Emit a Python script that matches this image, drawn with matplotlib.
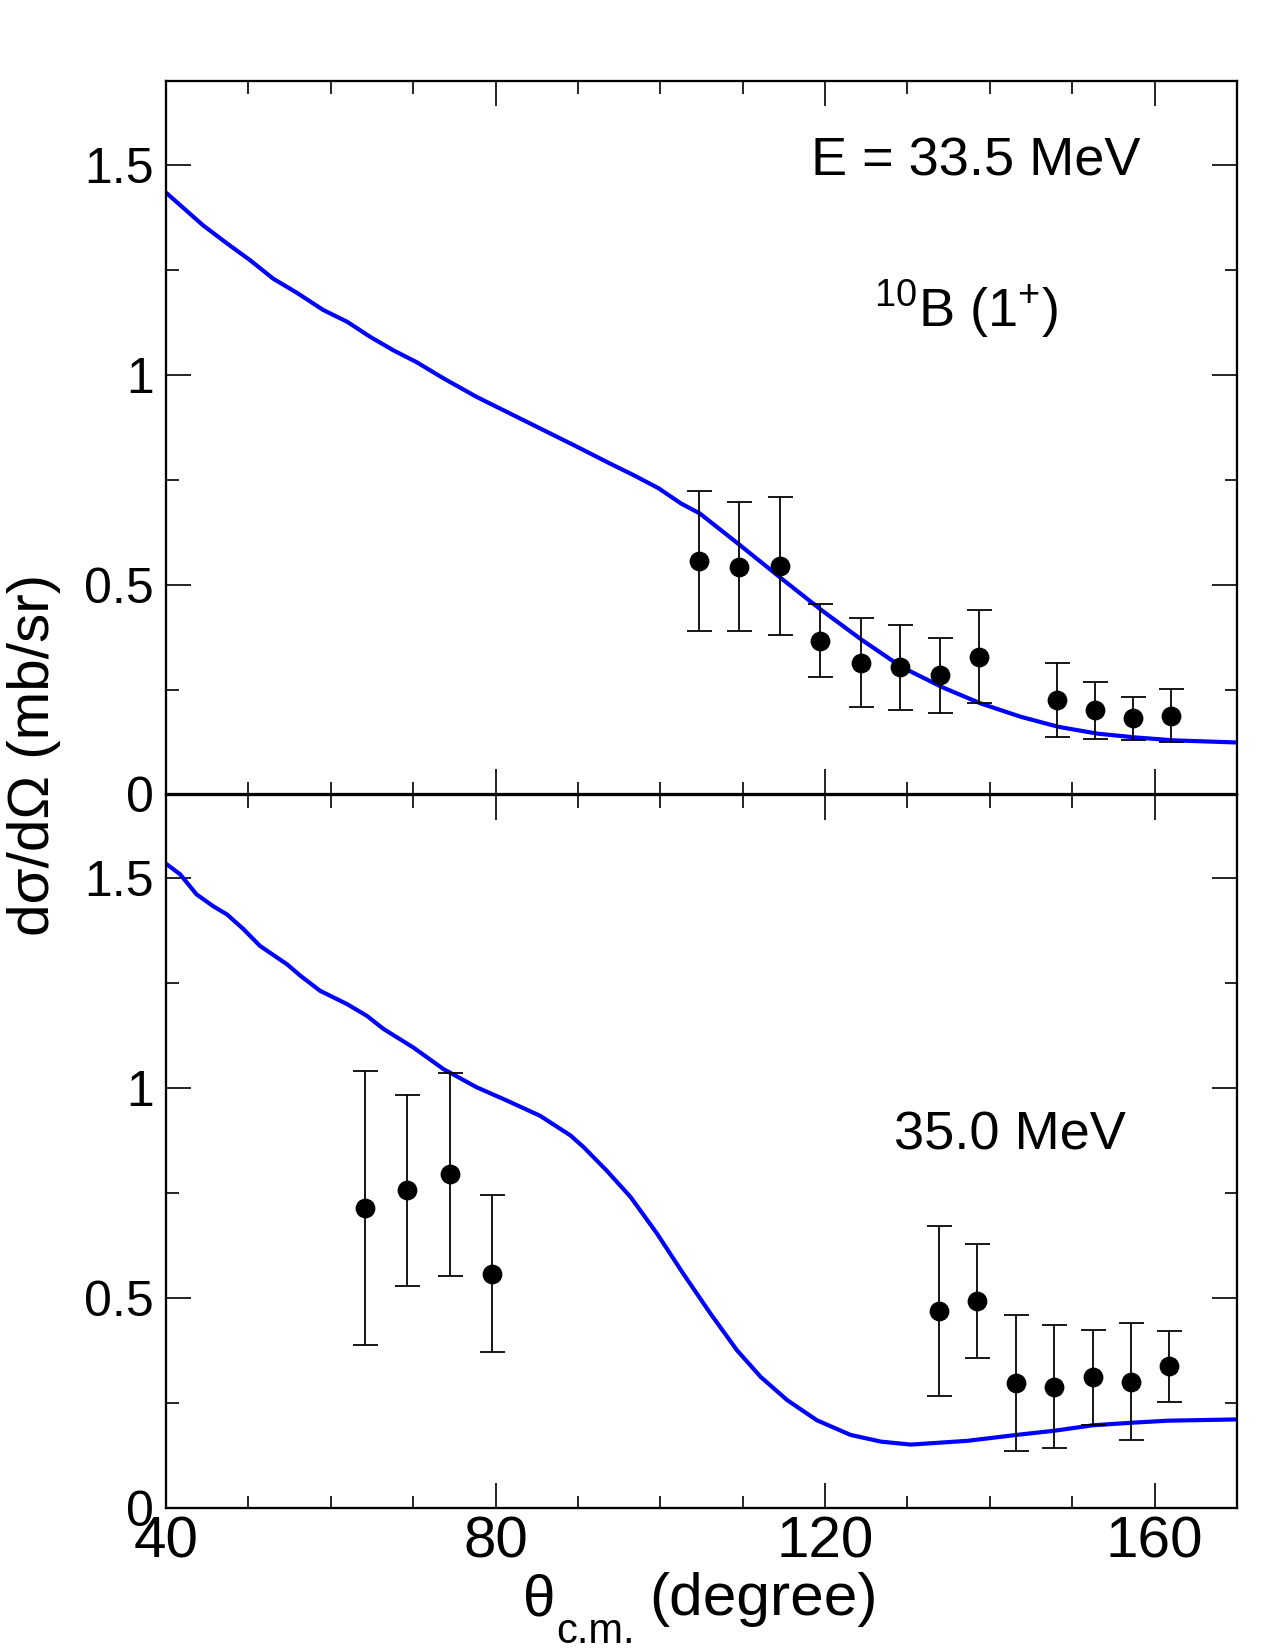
import matplotlib
matplotlib.use("Agg")
import matplotlib.pyplot as plt
from matplotlib.ticker import MultipleLocator, FixedLocator
import numpy as np

plt.rcParams['font.family'] = ['Liberation Sans', 'DejaVu Sans']
plt.rcParams['mathtext.fontset'] = 'custom'
plt.rcParams['mathtext.rm'] = 'Liberation Sans'
plt.rcParams['mathtext.it'] = 'Liberation Sans'
plt.rcParams['mathtext.bf'] = 'Liberation Sans:bold'

# ---- data: E = 33.5 MeV (top) ----
theta_top = [104.7, 109.6, 114.5, 119.4, 124.3, 129.1, 134.0, 138.7, 148.1, 152.8, 157.4, 162.0]
sig_top = [0.557, 0.543, 0.544, 0.366, 0.314, 0.303, 0.285, 0.329, 0.225, 0.201, 0.182, 0.188]
hi_top = [0.724, 0.697, 0.709, 0.454, 0.420, 0.403, 0.374, 0.439, 0.313, 0.268, 0.233, 0.252]
lo_top = [0.389, 0.389, 0.380, 0.280, 0.209, 0.202, 0.195, 0.219, 0.138, 0.133, 0.129, 0.124]

curve_top_x = [40.0, 44.5, 47.4, 50.2, 53.0, 55.9, 59.1, 62.0, 64.8, 67.6, 70.4, 73.7, 77.7,
               81.8, 85.8, 89.9, 93.9, 96.8, 99.8, 102.5, 104.8, 109.7, 114.7, 119.6, 124.5,
               129.3, 134.2, 138.9, 143.8, 148.4, 153.1, 157.7, 162.4, 170.0]
curve_top_y = [1.435, 1.357, 1.314, 1.274, 1.230, 1.196, 1.155, 1.127, 1.091, 1.059, 1.031,
               0.992, 0.948, 0.908, 0.869, 0.829, 0.789, 0.761, 0.730, 0.694, 0.670, 0.594,
               0.515, 0.439, 0.368, 0.304, 0.256, 0.217, 0.185, 0.161, 0.145, 0.136, 0.129, 0.124]

# ---- data: E = 35.0 MeV (bottom) ----
theta_bot = [64.1, 69.3, 74.5, 79.6, 133.8, 138.5, 143.2, 147.8, 152.5, 157.1, 161.7]
sig_bot = [0.714, 0.756, 0.796, 0.557, 0.468, 0.493, 0.297, 0.288, 0.310, 0.300, 0.337]
hi_bot = [1.040, 0.984, 1.037, 0.745, 0.670, 0.629, 0.460, 0.434, 0.424, 0.439, 0.422]
lo_bot = [0.387, 0.528, 0.553, 0.371, 0.266, 0.357, 0.134, 0.142, 0.197, 0.161, 0.251]

curve_bot_x = [40.0, 41.7, 43.7, 45.7, 47.4, 49.4, 51.4, 54.7, 56.3, 58.7, 62.0, 64.4, 66.4,
               70.0, 73.7, 77.7, 81.4, 85.4, 89.1, 90.7, 93.5, 96.4, 99.6, 102.8, 106.1,
               109.3, 112.2, 115.4, 119.0, 123.1, 126.8, 130.4, 137.3, 143.2, 147.8, 152.5,
               157.1, 161.6, 170.0]
curve_bot_y = [1.535, 1.510, 1.462, 1.434, 1.414, 1.379, 1.339, 1.295, 1.268, 1.232, 1.200,
               1.172, 1.141, 1.097, 1.045, 1.002, 0.970, 0.934, 0.887, 0.859, 0.803, 0.740,
               0.653, 0.557, 0.462, 0.375, 0.311, 0.256, 0.208, 0.173, 0.157, 0.150, 0.159,
               0.173, 0.183, 0.196, 0.202, 0.207, 0.210]

ytick_vals = [0, 0.5, 1, 1.5]
ytick_labels = ['0', '0.5', '1', '1.5']
xtick_vals = [40, 80, 120, 160]
xtick_labels = ['40', '80', '120', '160']

fig = plt.figure(figsize=(8.5, 11), dpi=150)
W, H = 1275, 1650
L, R = 166 / W, 1237 / W
top_t, mid, bot_b = 81.5, 794.5, 1507.5
ax1 = fig.add_axes([L, 1 - mid / H, R - L, (mid - top_t) / H])
ax2 = fig.add_axes([L, 1 - bot_b / H, R - L, (bot_b - mid) / H])

blue = '#0000ff'

def draw(ax, cx, cy, tx, sy, lo, hi):
    ax.plot(cx, cy, color=blue, lw=2.0, zorder=2, solid_joinstyle='round')
    sy = np.array(sy); lo = np.array(lo); hi = np.array(hi)
    ax.errorbar(tx, sy, yerr=[sy - lo, hi - sy], fmt='o', color='black', ms=8.5,
                elinewidth=0.85, capsize=6.0, capthick=0.85, zorder=3)
    ax.set_xlim(40, 170)
    ax.set_ylim(0, 1.7)
    ax.yaxis.set_major_locator(FixedLocator(ytick_vals))
    ax.set_yticklabels(ytick_labels)
    ax.yaxis.set_minor_locator(MultipleLocator(0.25))
    ax.xaxis.set_major_locator(FixedLocator(xtick_vals))
    ax.xaxis.set_minor_locator(MultipleLocator(10))
    ax.tick_params(which='both', direction='in', top=True, right=True, width=0.8)
    ax.tick_params(which='major', length=12)
    ax.tick_params(which='minor', length=6)
    ax.tick_params(axis='y', labelsize=24, pad=6)
    for s in ax.spines.values():
        s.set_linewidth(1.1)

draw(ax1, curve_top_x, curve_top_y, theta_top, sig_top, lo_top, hi_top)
draw(ax2, curve_bot_x, curve_bot_y, theta_bot, sig_bot, lo_bot, hi_bot)
ax1.set_xticklabels([])
ax2.set_xticklabels(xtick_labels)
ax2.tick_params(axis='x', labelsize=28, pad=4)

ax1.text(976 / W, 1 - 162 / H, 'E = 33.5 MeV', transform=fig.transFigure,
         ha='center', va='center', fontsize=26)
ax1.text(966 / W, 1 - 327 / H, r'$^{10}$B (1$^{+}$)', transform=fig.transFigure,
         ha='center', va='baseline', fontsize=26)
ax2.text(1010 / W, 1 - 1136 / H, '35.0 MeV', transform=fig.transFigure,
         ha='center', va='center', fontsize=26)

# x-axis title: θ with lowered "c.m." subscript, then "(degree)"
fig.text(523 / W, 1 - 1615 / H, 'θ', ha='left', va='baseline', fontsize=28)
fig.text(556 / W, 1 - 1643 / H, 'c.m.', ha='left', va='baseline', fontsize=20)
fig.text(649 / W, 1 - 1615 / H, '(degree)', ha='left', va='baseline', fontsize=29)

fig.text(34 / W, 1 - 755 / H, 'dσ/dΩ (mb/sr)', rotation=90, ha='center', va='center',
         fontsize=28)

fig.savefig('out.png', dpi=150)
